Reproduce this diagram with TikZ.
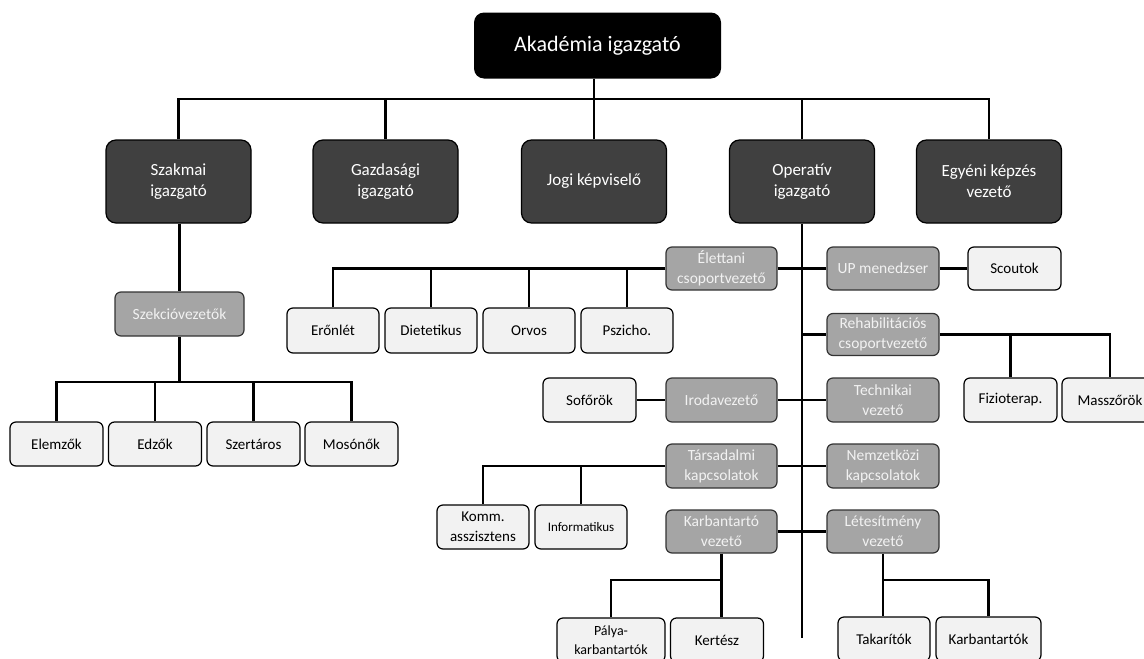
\documentclass[tikz,border=0pt]{standalone}
\usepackage{fontspec}
\setmainfont{Carlito}
\definecolor{dk}{HTML}{404040}
\definecolor{md}{HTML}{A5A5A5}
\definecolor{lt}{HTML}{F2F2F2}
\begin{document}
\begin{tikzpicture}[x=1pt,y=-1pt,
 conn/.style={line width=2.6pt},
 rootbox/.style={fill=black, rounded corners=10pt, text=white, inner sep=0pt, font=\fontsize{22}{26}\selectfont, minimum width=247pt, minimum height=66pt},
 topbox/.style={fill=dk, draw=black, line width=1.2pt, rounded corners=10pt, text=white, align=center, inner sep=0pt, font=\fontsize{17}{21}\selectfont, minimum width=145pt, minimum height=83pt},
 midbox/.style={fill=md, draw=black!80, line width=1.2pt, rounded corners=6pt, text=lt, align=center, inner sep=0pt, font=\fontsize{15.5}{20}\selectfont, minimum width=111pt, minimum height=43pt},
 leafbox/.style={fill=lt, draw=black, line width=1.2pt, rounded corners=6pt, text=black, align=center, inner sep=0pt, font=\fontsize{15}{20}\selectfont, minimum width=93pt, minimum height=44pt}]
\useasboundingbox (0,0) rectangle (1144,659);
% level 0/1
\node[rootbox] (root) at (597.5,45.5) {Akadémia igazgató};
\node[topbox] (szak) at (178.5,181.5) {Szakmai\\igazgató};
\node[topbox] (gaz) at (385.5,181.5) {Gazdasági\\igazgató};
\node[topbox] (jogi) at (594,181.5) {Jogi képviselő};
\node[topbox] (oper) at (802,181.5) {Operatív\\igazgató};
\node[topbox] (egy) at (989,181.5) {Egyéni képzés\\vezető};
% Szakmai branch
\node[midbox, minimum width=129pt, minimum height=44pt] (szek) at (179.5,314) {Szekcióvezetők};
\node[leafbox] (elem) at (56.5,444) {Elemzők};
\node[leafbox] (edz) at (155,444) {Edzők};
\node[leafbox] (szert) at (253.5,444) {Szertáros};
\node[leafbox] (mos) at (351.5,444) {Mosónők};
% Operativ branch
\node[midbox] (elet) at (721.5,268.5) {Élettani\\csoportvezető};
\node[midbox, minimum width=112pt] (up) at (883,268.5) {UP menedzser};
\node[leafbox, minimum height=43pt] (scout) at (1014.5,268.5) {Scoutok};
\node[leafbox, minimum width=92pt, minimum height=45pt] (eron) at (333,330.5) {Erőnlét};
\node[leafbox, minimum width=92pt, minimum height=45pt] (diet) at (431,330.5) {Dietetikus};
\node[leafbox, minimum width=92pt, minimum height=45pt] (orv) at (529,330.5) {Orvos};
\node[leafbox, minimum width=92pt, minimum height=45pt] (pszi) at (627,330.5) {Pszicho.};
\node[midbox, minimum width=112pt, minimum height=42pt] (rehab) at (883,334.5) {Rehabilitációs\\csoportvezető};
\node[leafbox] (fizio) at (1010.5,400) {Fizioterap.};
\node[leafbox, minimum width=96pt] (massz) at (1110,400) {Masszőrök};
\node[leafbox] (sof) at (589.5,400) {Sofőrök};
\node[midbox, minimum height=44pt] (iroda) at (721.5,400) {Irodavezető};
\node[midbox, minimum width=112pt, minimum height=44pt] (tech) at (883,400) {Technikai\\vezető};
\node[midbox, minimum height=44pt] (tars) at (721.5,466) {Társadalmi\\kapcsolatok};
\node[midbox, minimum width=112pt, minimum height=44pt] (nemz) at (883,466) {Nemzetközi\\kapcsolatok};
\node[leafbox, minimum width=92pt] (komm) at (483,527) {Komm.\\asszisztens};
\node[leafbox, minimum width=92pt, font=\fontsize{13}{16}\selectfont] (info) at (581,527) {Informatikus};
\node[midbox] (karb) at (721.5,531.5) {Karbantartó\\vezető};
\node[midbox, minimum width=112pt] (letes) at (883,531.5) {Létesítmény\\vezető};
\node[leafbox, minimum width=108pt, font=\fontsize{14}{19}\selectfont] (palya) at (611,640) {Pálya-\\karbantartók};
\node[leafbox] (kert) at (717,640) {Kertész};
\node[leafbox, minimum width=92pt] (takar) at (884,639) {Takarítók};
\node[leafbox, minimum width=105pt] (karbt) at (988.5,639) {Karbantartók};
% bus coordinates
\coordinate (tb) at (0,99);
\coordinate (sb) at (0,382);
\coordinate (kb) at (0,580);
\coordinate (trend) at (802,638);
% top connectors
\draw[conn] (root.south -| jogi) -- (jogi.north);
\draw[conn] (szak.north) -- (szak.north |- tb) -- (egy.north |- tb) -- (egy.north);
\draw[conn] (gaz.north) -- (gaz.north |- tb);
\draw[conn] (oper.north) -- (oper.north |- tb);
% szakmai
\draw[conn] (szek.north |- szak.south) -- (szek.north);
\draw[conn] (szek.south) -- (szek.south |- sb);
\draw[conn] (elem.north) -- (elem.north |- sb) -- (mos.north |- sb) -- (mos.north);
\draw[conn] (edz.north) -- (edz.north |- sb);
\draw[conn] (szert.north) -- (szert.north |- sb);
% operativ trunk
\draw[conn] (oper.south) -- (trend);
\draw[conn] (elet.east) -- (up.west);
\draw[conn] (up.east) -- (scout.west);
\draw[conn] (elet.west) -- (elet.west -| eron) -- (eron.north);
\draw[conn] (diet.north) -- (diet.north |- elet.west);
\draw[conn] (orv.north) -- (orv.north |- elet.west);
\draw[conn] (pszi.north) -- (pszi.north |- elet.west);
\draw[conn] (rehab.west -| oper) -- (rehab.west);
\draw[conn] (rehab.east) -- (rehab.east -| massz) -- (massz.north);
\draw[conn] (fizio.north) -- (fizio.north |- rehab.east);
\draw[conn] (sof.east) -- (iroda.west);
\draw[conn] (iroda.east) -- (tech.west);
\draw[conn] (tars.east) -- (nemz.west);
\draw[conn] (tars.west) -- (tars.west -| komm) -- (komm.north);
\draw[conn] (info.north) -- (info.north |- tars.west);
\draw[conn] (karb.east) -- (letes.west);
\draw[conn] (karb.south) -- (karb.south |- kert.north);
\draw[conn] (karb.south |- kb) -- (kb -| palya) -- (palya.north);
\draw[conn] (letes.south) -- (letes.south |- takar.north);
\draw[conn] (letes.south |- kb) -- (kb -| karbt) -- (karbt.north);
\end{tikzpicture}
\end{document}
